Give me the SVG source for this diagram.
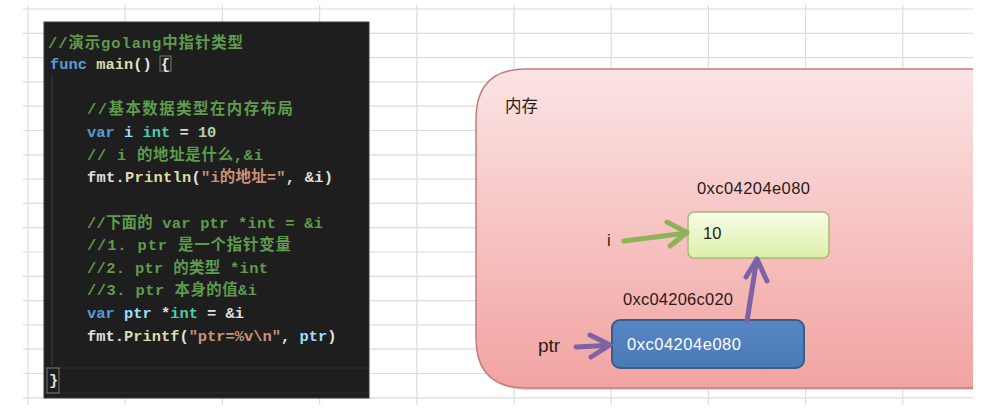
<svg xmlns="http://www.w3.org/2000/svg" width="994" height="410" viewBox="0 0 994 410">
<defs>
<style>
.grid{stroke:#dcdcdc;stroke-width:1.2}
.code{font-family:"Liberation Mono","DejaVu Sans Mono","Noto Sans CJK SC",monospace;font-size:15.4px;font-weight:bold}
.cm{fill:#5f9b4c}.kw{fill:#569cd6}.fn{fill:#dcdcaa}.vr{fill:#9cdcfe}.ty{fill:#4ec9b0}.nm{fill:#b5cea8}.st{fill:#ce9178}.pl{fill:#e0e0e0}
.lbl{font-family:"Liberation Sans","Noto Sans CJK SC",sans-serif;font-size:16.5px;fill:#2a1a1a}
</style>
<linearGradient id="pink" x1="0" y1="0" x2="0" y2="1">
<stop offset="0" stop-color="#fbe4e4"/><stop offset="1" stop-color="#f1a3a1"/>
</linearGradient>
<linearGradient id="green" x1="0" y1="0" x2="0" y2="1">
<stop offset="0" stop-color="#f7fce6"/><stop offset="1" stop-color="#dcf0a8"/>
</linearGradient>
<linearGradient id="blue" x1="0" y1="0" x2="0" y2="1">
<stop offset="0" stop-color="#5686c4"/><stop offset="1" stop-color="#4a7ab6"/>
</linearGradient>
</defs>
<rect width="994" height="410" fill="#ffffff"/>
<g id="grid">
<line class="grid" x1="23" y1="9" x2="973" y2="9"/><line class="grid" x1="23" y1="33.3" x2="973" y2="33.3"/><line class="grid" x1="23" y1="57.6" x2="973" y2="57.6"/><line class="grid" x1="23" y1="81.9" x2="973" y2="81.9"/><line class="grid" x1="23" y1="106.2" x2="973" y2="106.2"/><line class="grid" x1="23" y1="130.5" x2="973" y2="130.5"/><line class="grid" x1="23" y1="154.8" x2="973" y2="154.8"/><line class="grid" x1="23" y1="179.1" x2="973" y2="179.1"/><line class="grid" x1="23" y1="203.4" x2="973" y2="203.4"/><line class="grid" x1="23" y1="227.7" x2="973" y2="227.7"/><line class="grid" x1="23" y1="252" x2="973" y2="252"/><line class="grid" x1="23" y1="276.3" x2="973" y2="276.3"/><line class="grid" x1="23" y1="300.6" x2="973" y2="300.6"/><line class="grid" x1="23" y1="324.9" x2="973" y2="324.9"/><line class="grid" x1="23" y1="349.2" x2="973" y2="349.2"/><line class="grid" x1="23" y1="373.5" x2="973" y2="373.5"/><line class="grid" x1="23" y1="397.8" x2="973" y2="397.8"/>
<line class="grid" x1="28" y1="5" x2="28" y2="405"/><line class="grid" x1="125.2" y1="5" x2="125.2" y2="405"/><line class="grid" x1="222.4" y1="5" x2="222.4" y2="405"/><line class="grid" x1="319.6" y1="5" x2="319.6" y2="405"/><line class="grid" x1="416.8" y1="5" x2="416.8" y2="405"/><line class="grid" x1="514" y1="5" x2="514" y2="405"/><line class="grid" x1="611.2" y1="5" x2="611.2" y2="405"/><line class="grid" x1="708.4" y1="5" x2="708.4" y2="405"/><line class="grid" x1="805.6" y1="5" x2="805.6" y2="405"/><line class="grid" x1="902.8" y1="5" x2="902.8" y2="405"/>
</g>
<g id="code-panel">
<rect x="44" y="22" width="325" height="376" fill="#1e1e1e" stroke="#3a3a3a" stroke-width="1"/>
<line x1="52" y1="75" x2="52" y2="366" stroke="#3c3c3c" stroke-width="1"/>
<line x1="45" y1="368" x2="368" y2="368" stroke="#2e2e2e" stroke-width="1"/>
<line x1="45" y1="393" x2="368" y2="393" stroke="#2e2e2e" stroke-width="1"/>
<rect x="160" y="56" width="11" height="15" fill="none" stroke="#777" stroke-width="1"/>
<rect x="47" y="368" width="12" height="25" fill="none" stroke="#777" stroke-width="1"/>
<text class="code cm" x="48" y="48" textLength="195">//演示golang中指针类型</text>
<text class="code" x="50" y="69"><tspan class="kw">func</tspan><tspan class="fn"> main</tspan><tspan class="pl">() {</tspan></text>
<text class="code cm" x="87" y="114" textLength="206">//基本数据类型在内存布局</text>
<text class="code" x="87" y="137"><tspan class="kw">var</tspan><tspan class="vr"> i</tspan><tspan class="ty"> int</tspan><tspan class="pl"> = </tspan><tspan class="nm">10</tspan></text>
<text class="code cm" x="87" y="160" textLength="176">// i 的地址是什么,&amp;i</text>
<text class="code" x="87" y="182" textLength="246"><tspan class="pl">fmt.</tspan><tspan class="fn">Println</tspan><tspan class="pl">(</tspan><tspan class="st">"i的地址="</tspan><tspan class="pl">, &amp;i)</tspan></text>
<text class="code cm" x="87" y="228" textLength="236">//下面的 var ptr *int = &amp;i</text>
<text class="code cm" x="87" y="250" textLength="204">//1. ptr 是一个指针变量</text>
<text class="code cm" x="87" y="273" textLength="181">//2. ptr 的类型 *int</text>
<text class="code cm" x="87" y="295" textLength="170">//3. ptr 本身的值&amp;i</text>
<text class="code" x="87" y="318"><tspan class="kw">var</tspan><tspan class="vr"> ptr</tspan><tspan class="pl"> *</tspan><tspan class="ty">int</tspan><tspan class="pl"> = &amp;i</tspan></text>
<text class="code" x="87" y="341"><tspan class="pl">fmt.</tspan><tspan class="fn">Printf</tspan><tspan class="pl">(</tspan><tspan class="st">"ptr=%v\n"</tspan><tspan class="pl">, </tspan><tspan class="vr">ptr</tspan><tspan class="pl">)</tspan></text>
<text class="code pl" x="49" y="385">}</text>
</g>
<g id="memory">
<path d="M973 71 L528 71 Q478 71 478 121 L478 340 Q478 390 528 390 L973 390 Z" fill="#c8b0b0" opacity="0.5"/>
<path d="M973 69 L526 69 Q476 69 476 119 L476 338 Q476 388 526 388 L973 388 Z" fill="url(#pink)"/>
<path d="M973 69 L526 69 Q476 69 476 119 L476 338 Q476 388 526 388 L973 388" fill="none" stroke="#c47b7b" stroke-width="1.5"/>
<text class="lbl" x="505" y="112" font-size="18">内存</text>
</g>
<g id="node-i">
<rect x="688" y="212" width="141" height="46" rx="6" fill="url(#green)" stroke="#a9b878" stroke-width="1.5"/>
<text class="lbl" x="703" y="239" font-size="16">10</text>
<text class="lbl" x="697" y="194" textLength="113">0xc04204e080</text>
<text class="lbl" x="607" y="246" font-size="17">i</text>
</g>
<g id="node-ptr">
<rect x="612" y="320" width="192" height="48" rx="8" fill="url(#blue)" stroke="#385d8a" stroke-width="2"/>
<text class="lbl" x="627" y="350" textLength="114" style="fill:#ffffff">0xc04204e080</text>
<text class="lbl" x="623" y="305" textLength="110">0xc04206c020</text>
<text class="lbl" x="538" y="352" style="font-size:19px">ptr</text>
</g>
<g id="connectors" fill="none" stroke-linecap="round" stroke-linejoin="round">
<line x1="624" y1="241" x2="683" y2="233.5" stroke="#8db257" stroke-width="5"/>
<polyline points="667,222 687,232.5 670,246" stroke="#8db257" stroke-width="5"/>
<line x1="576" y1="347" x2="606" y2="345.5" stroke="#7d62a6" stroke-width="5"/>
<polyline points="590,335 610,345 591,357" stroke="#7d62a6" stroke-width="5"/>
<line x1="747" y1="321" x2="756" y2="264" stroke="#7d62a6" stroke-width="5"/>
<polyline points="746,277 757,259 767,281" stroke="#7d62a6" stroke-width="5"/>
</g>
</svg>
